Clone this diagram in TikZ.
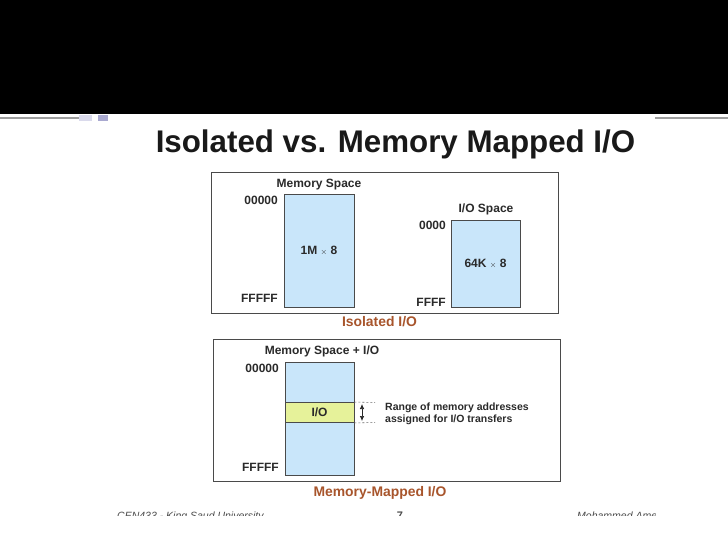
\documentclass[tikz,border=0pt]{standalone}
\usepackage{fontspec}
\setmainfont{Liberation Sans}
\usetikzlibrary{arrows.meta}
\definecolor{cellblue}{HTML}{C9E6FA}
\definecolor{iogreen}{HTML}{E6F29A}
\definecolor{capbrown}{HTML}{A8552C}
\definecolor{inkdark}{HTML}{2A2A2A}
\definecolor{barlight}{HTML}{DADAEC}
\definecolor{barmid}{HTML}{A9A9D0}
\tikzset{
  x=1pt,y=-1pt,
  panel/.style={draw=inkdark!85,line width=0.9pt,fill=white},
  cell/.style={draw=inkdark!85,line width=0.9pt,fill=cellblue},
  lbl/.style={font=\bfseries\fontsize{12}{14}\selectfont,text=inkdark,inner sep=0pt},
  captxt/.style={font=\bfseries\fontsize{13.9}{16}\selectfont,text=capbrown,inner sep=0pt},
  foot/.style={font=\itshape\fontsize{10.5}{12}\selectfont,text=black!70,inner sep=0pt,anchor=base west},
  guide/.style={draw=inkdark!70,line width=0.6pt,dash pattern=on 2pt off 2pt},
}
\begin{document}
\begin{tikzpicture}
\useasboundingbox (0,0) rectangle (728,546);
\fill[white] (0,0) rectangle (728,546);
\fill[black] (0,0) rectangle (728,114);
\draw[black!38,line width=1.2pt] (0,118) -- (80,118);
\draw[black!38,line width=1.2pt] (655,118) -- (728,118);
\fill[barlight] (79,115) rectangle (92,121);
\fill[barmid] (98,115) rectangle (108,121);
\node[font=\bfseries\fontsize{31.3}{36}\selectfont,inner sep=0pt,text=black!90] (title) at (395.5,144) {Isolated vs. Memory Mapped I/O};
% top panel
\node[panel,minimum width=347pt,minimum height=141pt,inner sep=0pt] (top) at (384.5,242.5) {};
\node[cell,minimum width=70pt,minimum height=113pt,inner sep=0pt] (mem) at (319,250.5) {};
\node[lbl] at (mem.center) {1M {\footnotesize$\times$} 8};
\node[lbl] (memt) at (319,184.5) {Memory Space};
\node[lbl,anchor=east] (m0) at (278,200.5) {00000};
\node[lbl,anchor=east] (m1) at (278,298.5) {FFFFF};
\node[cell,minimum width=69pt,minimum height=87pt,inner sep=0pt] (io) at (485.5,263.5) {};
\node[lbl] at (io.center) {64K {\footnotesize$\times$} 8};
\node[lbl] (iot) at (486,209.5) {I/O Space};
\node[lbl,anchor=east] (i0) at (446,225.5) {0000};
\node[lbl,anchor=east] (i1) at (446,302.5) {FFFF};
\node[captxt] (c1) at (379.5,322) {Isolated I/O};
% bottom panel
\node[panel,minimum width=347pt,minimum height=142pt,inner sep=0pt] (bot) at (386.5,410) {};
\node[cell,minimum width=69pt,minimum height=113pt,inner sep=0pt] (mm) at (319.5,418.5) {};
\node[draw=inkdark!85,line width=0.9pt,fill=iogreen,minimum width=69pt,minimum height=20pt,inner sep=0pt,lbl] (band) at (319.5,412.5) {I/O};
\node[lbl] (mmt) at (322,351) {Memory Space + I/O};
\node[lbl,anchor=east] (b0) at (279,368.5) {00000};
\node[lbl,anchor=east] (b1) at (279,467) {FFFFF};
\coordinate (d1s) at (band.north east);
\coordinate (d2s) at (band.south east);
\coordinate (d1e) at (375,402.5);
\coordinate (d2e) at (375,422.5);
\coordinate (a1) at (362,404);
\coordinate (a2) at (362,421);
\draw[guide] (d1s) -- (d1e);
\draw[guide] (d2s) -- (d2e);
\draw[{Latex[length=5pt,width=4.5pt]}-{Latex[length=5pt,width=4.5pt]},line width=0.7pt,draw=inkdark] (a1) -- (a2);
\node[lbl,anchor=west,align=left,font=\bfseries\fontsize{10.5}{11.8}\selectfont] (note) at (385,413.5) {Range of memory addresses\\assigned for I/O transfers};
\node[captxt] (c2) at (380,493) {Memory-Mapped I/O};
% footer, cut off by the slide edge
\begin{scope}
\clip (117,500) rectangle (655,515);
\node[foot] (f1) at (117,519) {CEN433 - King Saud University};
\node[foot,font=\bfseries\fontsize{11}{12}\selectfont,anchor=base] (f2) at (400,519) {7};
\node[foot] (f3) at (577,519) {Mohammed Amer};
\end{scope}
\end{tikzpicture}
\end{document}
